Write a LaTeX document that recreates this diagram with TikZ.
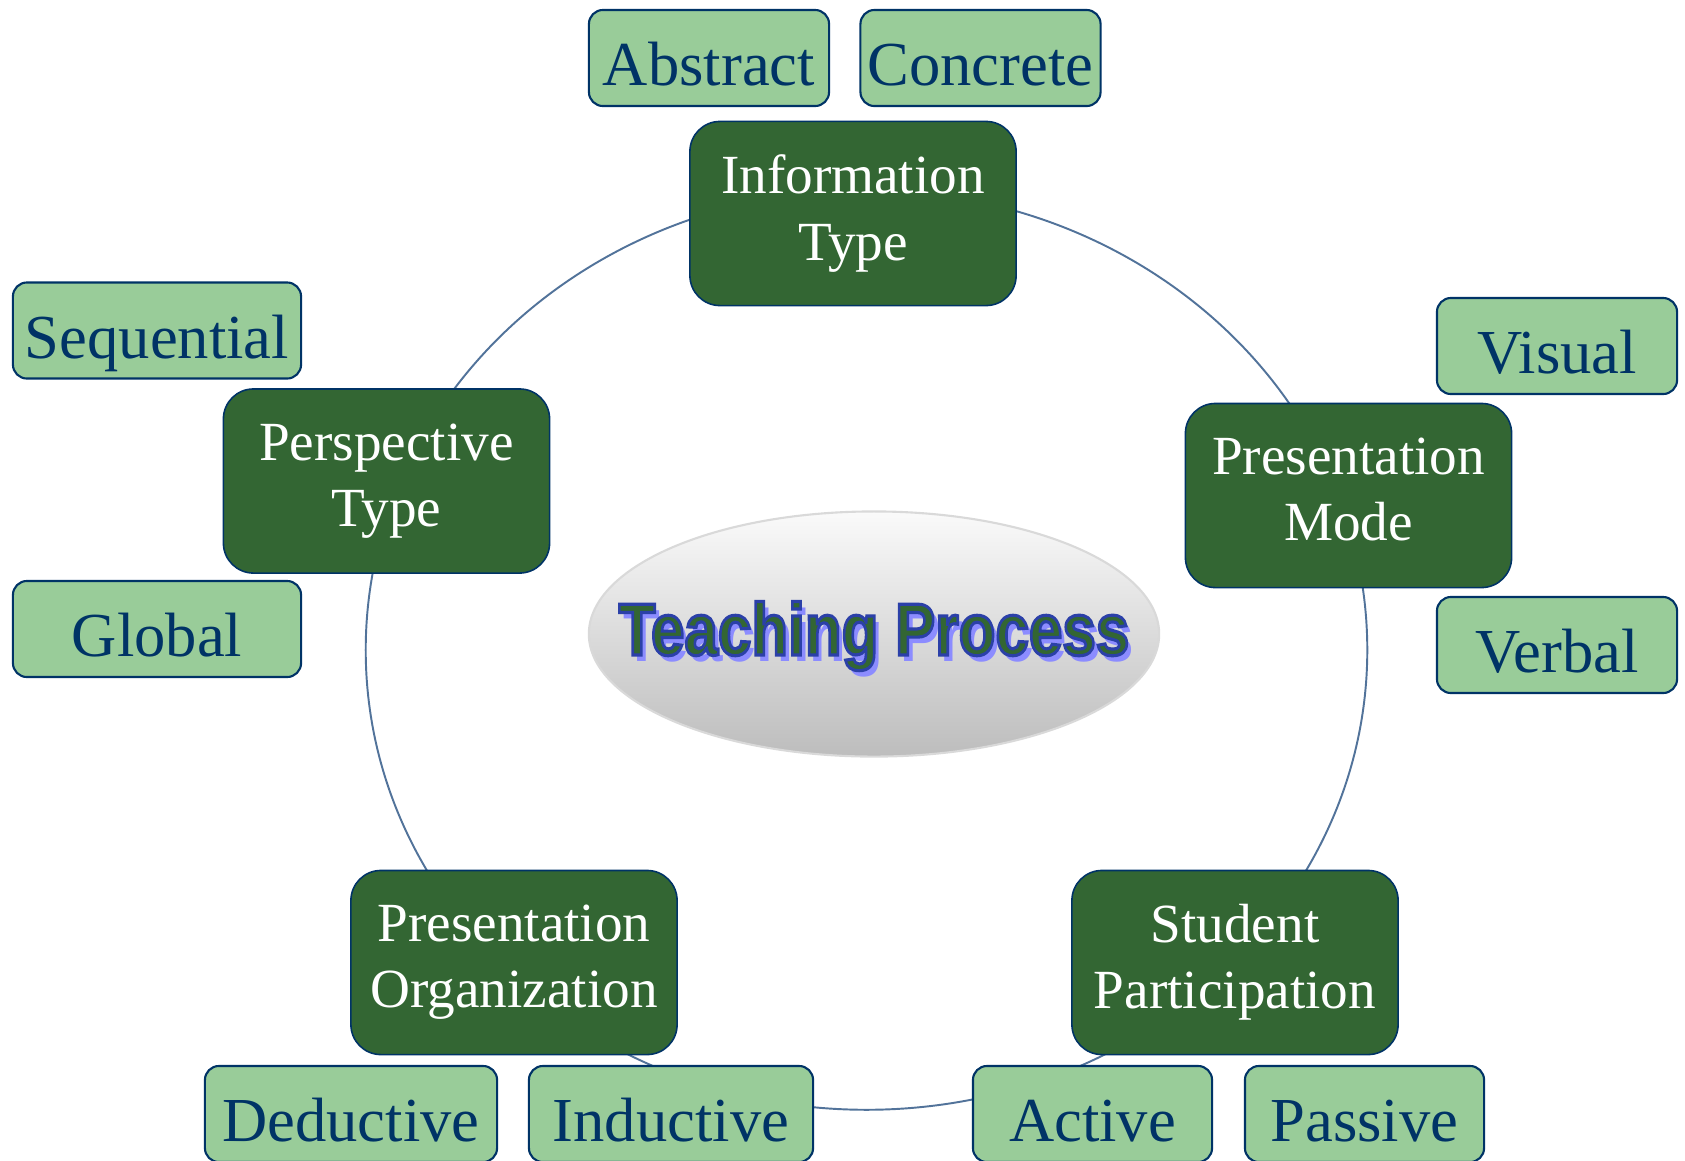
\documentclass[tikz,border=0pt]{standalone}
\usepackage{fontspec}
\setmainfont{Liberation Serif}
\newfontfamily\titlefont{Liberation Sans}
\usepackage{tikz}
\usetikzlibrary{shapes.geometric}

\definecolor{navy}{HTML}{003366}
\definecolor{dkgreen}{HTML}{336633}
\definecolor{ltgreen}{HTML}{99CC99}
\definecolor{ringblue}{HTML}{52739A}
\definecolor{glow}{HTML}{8C8CFF}

\newcommand{\rimtext}[1]{\special{pdf:literal direct 2 Tr 0.17 0.25 0.66 RG 0.9 w}#1\special{pdf:literal direct 0 Tr}}

\begin{document}
\begin{tikzpicture}[x=0.01cm,y=-0.01cm,
    mainbox/.style={draw=navy,line width=.45pt,fill=dkgreen,rounded corners=.3cm,text=white,align=center,
        font=\fontsize{15.7}{18.8}\selectfont,minimum width=3.26cm,minimum height=1.84cm,inner sep=0pt},
    subbox/.style={draw=navy,line width=.6pt,fill=ltgreen,rounded corners=.14cm,text=navy,
        font=\fontsize{17.8}{20}\selectfont,minimum height=.96cm,inner sep=0pt,text height=17.5pt,text depth=1.6pt},
    ring/.style={draw=ringblue,line width=.55pt},
    title/.style={font=\titlefont\bfseries\fontsize{21}{21}\selectfont,anchor=base,xscale=.815}]
    \useasboundingbox (0,0) rectangle (1685,1160);
    \draw[ring] (866.5,650) ellipse [x radius=5.005cm,y radius=4.595cm];
    % centre
    \node[ellipse,minimum width=5.7cm,minimum height=2.45cm,top color=black!2,bottom color=black!26,
        draw=black!15,line width=.6pt] (hub) at (874,634) {};
    \node[title,text=glow] (tpglow) at (879,661) {Teaching Process};
    \node[title,text=dkgreen] (tp) at (874,655) {\rimtext{Teaching Process}};
    % cycle
    \node[mainbox] (info) at (853,213.5) {Information\\Type};
    \node[mainbox] (pmode) at (1348.5,495.5) {Presentation\\Mode\vphantom{y}};
    \node[mainbox] (stud) at (1235,962.5) {Student\\Participation};
    \node[mainbox] (porg) at (514,962.5) {Presentation\\Organization};
    \node[mainbox] (persp) at (386.5,481) {Perspective\\Type};
    % poles
    \node[subbox,minimum width=2.40cm] (abstract) at (709,58) {Abstract};
    \node[subbox,minimum width=2.40cm] (concrete) at (980.5,58) {Concrete};
    \node[subbox,minimum width=2.40cm] (visual) at (1557,346) {Visual};
    \node[subbox,minimum width=2.40cm] (verbal) at (1557,645) {Verbal};
    \node[subbox,minimum width=2.88cm] (sequential) at (157,330.5) {Sequential};
    \node[subbox,minimum width=2.88cm] (global) at (157,629) {Global};
    \node[subbox,minimum width=2.92cm] (deductive) at (351,1114) {Deductive};
    \node[subbox,minimum width=2.84cm] (inductive) at (671,1114) {Inductive};
    \node[subbox,minimum width=2.39cm] (active) at (1092.5,1114) {Active};
    \node[subbox,minimum width=2.39cm] (passive) at (1364.5,1114) {Passive};
\end{tikzpicture}
\end{document}
